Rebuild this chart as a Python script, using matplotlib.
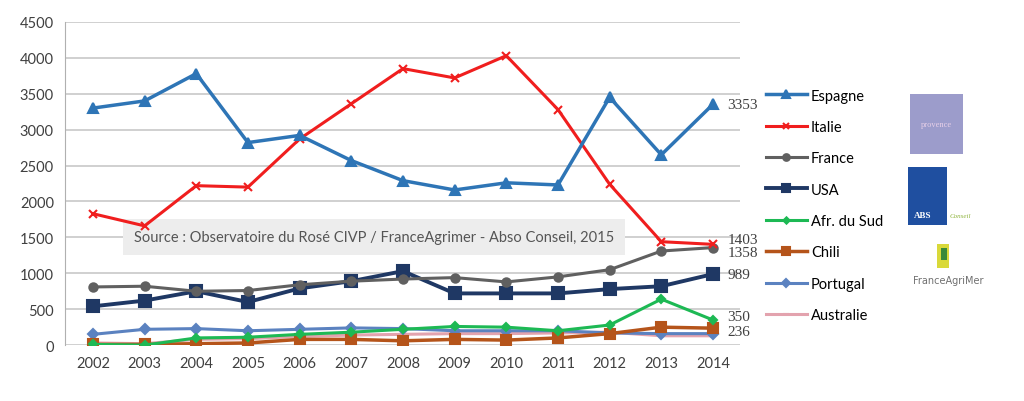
import matplotlib
matplotlib.use("Agg")
import matplotlib.pyplot as plt
from matplotlib.patches import Rectangle

years = list(range(2002, 2015))

espagne = [3300, 3400, 3780, 2820, 2920, 2570, 2290, 2160, 2260, 2230, 3450, 2650, 3353]
italie = [1830, 1660, 2220, 2200, 2870, 3360, 3850, 3720, 4030, 3280, 2240, 1440, 1403]
france = [810, 820, 750, 760, 840, 890, 920, 940, 880, 950, 1050, 1310, 1358]
usa = [540, 620, 750, 600, 790, 890, 1030, 720, 720, 720, 780, 820, 989]
afr_sud = [10, 0, 100, 110, 150, 180, 220, 260, 250, 200, 280, 640, 350]
chili = [10, 10, 20, 30, 80, 80, 60, 80, 70, 100, 160, 250, 236]
portugal = [150, 220, 230, 200, 220, 240, 230, 200, 200, 200, 170, 160, 160]
australie = [30, 20, 80, 90, 120, 140, 150, 160, 160, 170, 180, 130, 130]

yticks = [0, 500, 1000, 1500, 2000, 2500, 3000, 3500, 4000, 4500]
end_labels = {"Espagne": "3353", "Italie": "1403", "France": "1358",
              "USA": "989", "Afr. du Sud": "350", "Chili": "236"}

series = [
    ("Espagne", espagne, "#2E75B6", "^", 7, 2.5),
    ("Italie", italie, "#F01E1E", "x", 6, 2.2),
    ("France", france, "#606060", "o", 6, 2.2),
    ("USA", usa, "#1F3864", "s", 8, 2.8),
    ("Afr. du Sud", afr_sud, "#1DB954", "D", 4, 2.2),
    ("Chili", chili, "#B5541A", "s", 7, 2.5),
    ("Portugal", portugal, "#5B82C0", "D", 5, 2.2),
    ("Australie", australie, "#E3A3AE", "_", 5, 2.2),
]

fig = plt.figure(figsize=(10.24, 4.02), dpi=100)
ax = fig.add_axes([0.0635, 0.139, 0.659, 0.804])

handles = []
for name, vals, color, marker, ms, lw in series[::-1]:
    h, = ax.plot(years, vals, color=color, marker=marker, markersize=ms,
                 linewidth=lw, label=name, markeredgewidth=1.5, zorder=3)
    handles.append(h)
handles = handles[::-1]

# value labels at 2014 (nudged so they don't collide)
offsets = {"Espagne": 0, "Italie": 70, "France": -70, "USA": 0,
           "Afr. du Sud": 45, "Chili": -45}
for name, vals, color, *_ in series:
    if name in end_labels:
        ax.text(2014.28, vals[-1] + offsets[name], end_labels[name],
                fontsize=11, family="Liberation Serif", color="#404040",
                va="center", ha="left")

ax.set_xlim(2001.46, 2014.52)
ax.set_ylim(0, 4500)
ax.set_xticks(years)
ax.set_yticks(yticks)
ax.tick_params(length=0, labelsize=10.5, colors="#404040", pad=8)
for lab in ax.get_xticklabels() + ax.get_yticklabels():
    lab.set_family("Lato")
ax.grid(axis="y", color="#C8C8C8", linewidth=1.2)
ax.set_axisbelow(True)
for s in ["top", "right", "bottom"]:
    ax.spines[s].set_visible(False)
ax.spines["left"].set_color("#B0B0B0")

ax.text(2002.8, 1500, "Source : Observatoire du Rosé CIVP / FranceAgrimer - Abso Conseil, 2015",
        fontsize=10.5, family="Lato", color="#555555", va="center", ha="left",
        bbox={"boxstyle": "square,pad=0.75", "facecolor": "#EDEDED",
              "edgecolor": "none"}, zorder=2)

fig.legend(handles, [s[0] for s in series], loc="upper left",
           bbox_to_anchor=(0.735, 0.81), frameon=False, prop={"family": "Lato", "size": 10.5},
           labelspacing=1.19, handlelength=2.8, handletextpad=0.3, markerscale=0.8)

# logo placeholders
fig.patches.append(Rectangle((0.889, 0.615), 0.051, 0.148, transform=fig.transFigure,
                             facecolor="#9C9CCB", edgecolor="none"))
fig.text(0.9145, 0.69, "provence", fontsize=6, color="#E8D0E8", ha="center",
         va="center", family="Liberation Serif")
fig.patches.append(Rectangle((0.887, 0.438), 0.038, 0.145, transform=fig.transFigure,
                             facecolor="#1F4FA0", edgecolor="none"))
fig.text(0.901, 0.462, "ABS", fontsize=6.5, color="#FFFFFF", ha="center",
         va="center", family="Liberation Serif", weight="bold")
fig.text(0.938, 0.462, "Conseil", fontsize=5, color="#8DB33A", ha="center",
         va="center", family="Liberation Serif", style="italic")
fig.patches.append(Rectangle((0.915, 0.33), 0.012, 0.06, transform=fig.transFigure,
                             facecolor="#D9D93A", edgecolor="none"))
fig.patches.append(Rectangle((0.919, 0.35), 0.006, 0.03, transform=fig.transFigure,
                             facecolor="#3A8A3A", edgecolor="none"))
fig.text(0.926, 0.3, "FranceAgriMer", fontsize=7, color="#707070", ha="center",
         va="center", family="Liberation Sans Narrow")

fig.savefig("out.png", dpi=100)
